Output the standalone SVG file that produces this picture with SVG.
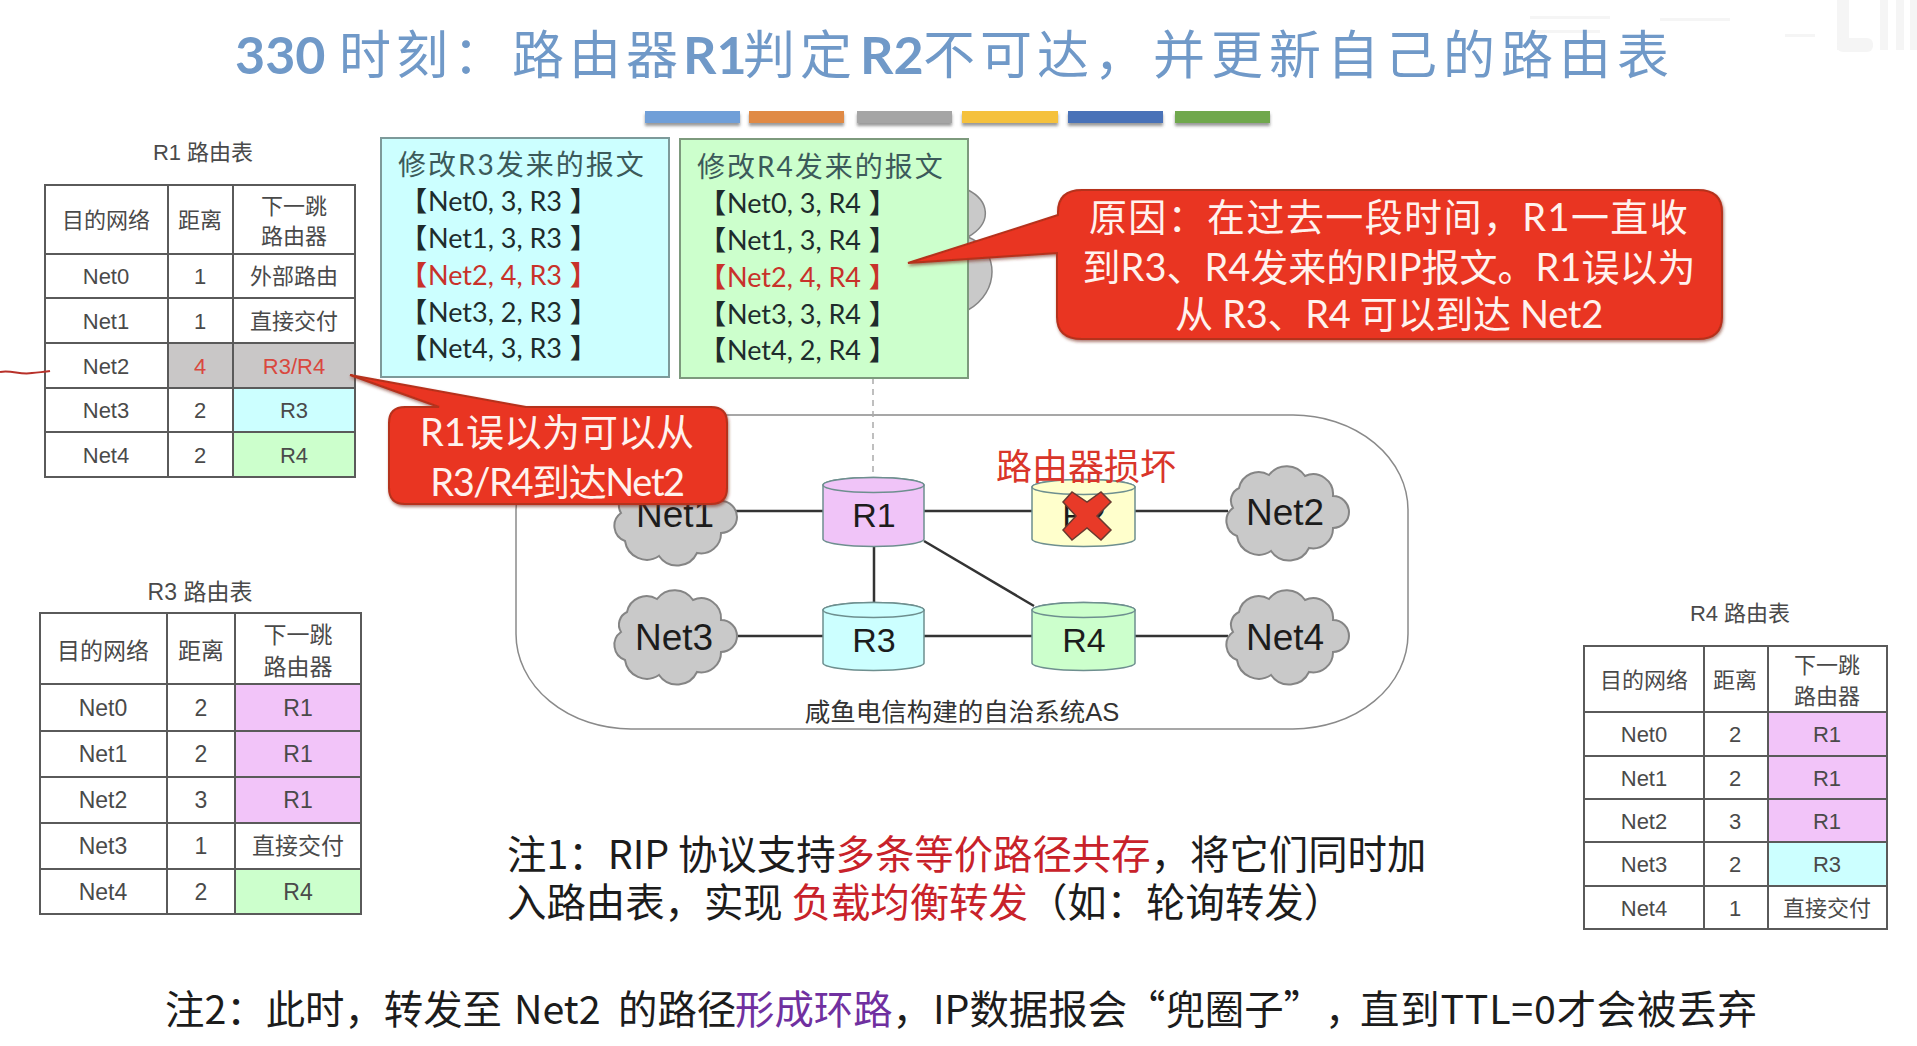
<svg xmlns="http://www.w3.org/2000/svg" width="1917" height="1046" viewBox="0 0 1917 1046">
<style>
text{font-family:"Liberation Sans","Noto Sans CJK SC",sans-serif}
.c{text-anchor:middle}
.t{font-size:22px;fill:#4a4a4a;text-anchor:middle}
.t3{font-size:23px;fill:#4a4a4a;text-anchor:middle}
.grid{fill:none;stroke:#5a5a5a;stroke-width:2}
.msg{font-family:"Lato","Noto Sans CJK SC",sans-serif;font-size:27px;fill:#1e2c2c}
.br{font-family:"Noto Sans CJK SC",sans-serif;font-weight:700}
.msgh{font-family:"Lato","Noto Sans CJK SC",sans-serif;font-size:28px;fill:#3c5a5a;letter-spacing:2px}
.red{fill:#c8322a}
.wh{font-family:"Lato","Noto Sans CJK SC",sans-serif;font-size:38px;fill:#fff2ee;text-anchor:middle}
.ttl{font-family:"Lato","Noto Sans CJK SC",sans-serif;font-size:52px;fill:#7099c8;letter-spacing:5px}
.ttb{font-weight:700;letter-spacing:0}
.note{font-family:"Noto Sans CJK SC","Noto Sans",sans-serif;font-size:39.400px;fill:#1c1c1c}
.nl{font-size:34px;fill:#1c1c1c;text-anchor:middle}
.nn{font-size:37px;fill:#1c1c1c;text-anchor:middle}
.edge{stroke:#333;stroke-width:2.5;fill:none}
.cyl{stroke:#6e8f8f;stroke-width:1.5}
.cloud{fill:#c9c9c9;stroke:#858585;stroke-width:2}
.bar{filter:url(#sh)}
.call{fill:#e93420;stroke:#b5301c;stroke-width:2;filter:url(#sh2)}
</style>
<defs>
<filter id="sh" x="-10%" y="-30%" width="120%" height="180%"><feDropShadow dx="0" dy="3" stdDeviation="1.5" flood-color="#555" flood-opacity=".6"/></filter>
<filter id="sh2" x="-10%" y="-10%" width="120%" height="125%"><feDropShadow dx="1" dy="2" stdDeviation="1.5" flood-color="#7a2a1a" flood-opacity=".6"/></filter>
<path id="cloud" class="cloud" d="M-44,-24A20,20 0 0 1 -14,-37A22,22 0 0 1 22,-36A20,20 0 0 1 50,-16A16,16 0 0 1 50,16A20,20 0 0 1 26,36A22,22 0 0 1 -12,39A22,22 0 0 1 -46,24A16,16 0 0 1 -50,-4A14,14 0 0 1 -44,-24Z"/>
</defs>
<rect width="1917" height="1046" fill="#fff"/>

<g id="watermark" fill="#f5f5f5">
<rect x="1837" y="0" width="12" height="50"/><rect x="1837" y="38" width="36" height="14" rx="6"/><rect x="1880" y="0" width="8" height="50"/><rect x="1896" y="0" width="8" height="50"/><rect x="1910" y="0" width="7" height="50"/>
<rect x="1530" y="16" width="80" height="3"/><rect x="1530" y="30" width="70" height="3"/><rect x="1660" y="18" width="70" height="3"/><rect x="1785" y="34" width="30" height="3"/>
</g>

<g id="title">
<text class="ttl" y="74"><tspan class="ttb" x="235">330</tspan><tspan x="339">时刻&#xFF1A;</tspan><tspan x="512">路由器</tspan><tspan class="ttb" x="683">R1</tspan><tspan x="743">判定</tspan><tspan class="ttb" x="860">R2</tspan><tspan x="923">不可达&#xFF0C;</tspan><tspan x="1153" letter-spacing="6">并更新自己的路由表</tspan></text>
</g>

<g id="bars">
<rect class="bar" x="645" y="111" width="95" height="12" fill="#6f9fd8"/>
<rect class="bar" x="749" y="111" width="95" height="12" fill="#e08a45"/>
<rect class="bar" x="857" y="111" width="95" height="12" fill="#a5a5a5"/>
<rect class="bar" x="962" y="111" width="96" height="12" fill="#f5c13e"/>
<rect class="bar" x="1068" y="111" width="95" height="12" fill="#4a72b8"/>
<rect class="bar" x="1175" y="111" width="95" height="12" fill="#70a84e"/>
</g>

<g id="as-domain">
<rect x="516" y="415" width="892" height="314" rx="115" ry="95" fill="#fff" stroke="#8a8a8a" stroke-width="1.5"/>
<text class="c" x="962" y="721" font-size="25.5" fill="#333">咸鱼电信构建的自治系统AS</text>
</g>

<g id="connectors">
<path class="edge" d="M735,511H823M924,511H1032M1135,511H1228M738,636H823M924,636H1032M1135,636H1228M874,546V602"/>
<path class="edge" d="M924,541L1034,606"/>
<path d="M873,378V478" fill="none" stroke="#aaa" stroke-width="1.5" stroke-dasharray="6 5"/>
</g>

<g id="net1"><use href="#cloud" x="671" y="517"/><text class="nn" x="675" y="527">Net1</text></g>
<g id="net2"><use href="#cloud" x="1283" y="512"/><text class="nn" x="1285" y="525">Net2</text></g>
<g id="net3"><use href="#cloud" x="671" y="636"/><text class="nn" x="674" y="650">Net3</text></g>
<g id="net4"><use href="#cloud" x="1283" y="636"/><text class="nn" x="1285" y="650">Net4</text></g>

<g id="r1"><path class="cyl" fill="#f0c4f8" d="M823,485V539A50.500,7.500 0 0 0 924,539V485A50.500,7.500 0 0 0 823,485Z"/><ellipse class="cyl" cx="873.500" cy="485" rx="50.500" ry="7.500" fill="#f0c4f8"/><text class="nl" x="874" y="527">R1</text></g>
<g id="r2"><path class="cyl" fill="#ffffcc" d="M1032,487V539A51.500,7.500 0 0 0 1135,539V487A51.500,7.500 0 0 0 1032,487Z"/><ellipse class="cyl" cx="1083.500" cy="487" rx="51.500" ry="7.500" fill="#ffffcc"/><text class="nl" x="1084" y="527">R2</text>
<polygon points="1063,502 1072,492 1087,502 1101,492 1111,502 1097,516 1111,530 1101,540 1087,528 1072,540 1063,530 1076,516" fill="#e83a28" stroke="#6a3a30" stroke-width="1.500"/></g>
<g id="r3"><path class="cyl" fill="#ccffff" d="M823,610V663A50.500,7.500 0 0 0 924,663V610A50.500,7.500 0 0 0 823,610Z"/><ellipse class="cyl" cx="873.500" cy="610" rx="50.500" ry="7.500" fill="#ccffff"/><text class="nl" x="874" y="652">R3</text></g>
<g id="r4"><path class="cyl" fill="#ccffcc" d="M1032,610V663A51.500,7.500 0 0 0 1135,663V610A51.500,7.500 0 0 0 1032,610Z"/><ellipse class="cyl" cx="1083.500" cy="610" rx="51.500" ry="7.500" fill="#ccffcc"/><text class="nl" x="1084" y="652">R4</text></g>
<text id="broken-label" class="c" x="1086" y="480" font-size="36" fill="#d9352a">路由器损坏</text>

<path d="M968,190C988,200 994,222 968,237C1000,250 1000,292 968,310Z" fill="#c9c9c9" stroke="#858585" stroke-width="1.500"/>

<g id="msg-r3">
<rect x="381" y="138" width="288" height="239" fill="#ccffff" stroke="#7d9a9a" stroke-width="2"/>
<text class="msgh" x="398" y="175">修改R3发来的报文</text>
<text class="msg" y="211"><tspan class="br" x="400">【</tspan><tspan x="428">Net0, 3, R3</tspan><tspan class="br" x="570">】</tspan></text>
<text class="msg" y="248"><tspan class="br" x="400">【</tspan><tspan x="428">Net1, 3, R3</tspan><tspan class="br" x="570">】</tspan></text>
<text class="msg red" y="285"><tspan class="br" x="400">【</tspan><tspan x="428">Net2, 4, R3</tspan><tspan class="br" x="570">】</tspan></text>
<text class="msg" y="322"><tspan class="br" x="400">【</tspan><tspan x="428">Net3, 2, R3</tspan><tspan class="br" x="570">】</tspan></text>
<text class="msg" y="358"><tspan class="br" x="400">【</tspan><tspan x="428">Net4, 3, R3</tspan><tspan class="br" x="570">】</tspan></text>
</g>
<g id="msg-r4">
<rect x="680" y="139" width="288" height="239" fill="#ccffcc" stroke="#7d9a7d" stroke-width="2"/>
<text class="msgh" x="697" y="177">修改R4发来的报文</text>
<text class="msg" y="213"><tspan class="br" x="699">【</tspan><tspan x="727">Net0, 3, R4</tspan><tspan class="br" x="869">】</tspan></text>
<text class="msg" y="250"><tspan class="br" x="699">【</tspan><tspan x="727">Net1, 3, R4</tspan><tspan class="br" x="869">】</tspan></text>
<text class="msg red" y="287"><tspan class="br" x="699">【</tspan><tspan x="727">Net2, 4, R4</tspan><tspan class="br" x="869">】</tspan></text>
<text class="msg" y="324"><tspan class="br" x="699">【</tspan><tspan x="727">Net3, 3, R4</tspan><tspan class="br" x="869">】</tspan></text>
<text class="msg" y="360"><tspan class="br" x="699">【</tspan><tspan x="727">Net4, 2, R4</tspan><tspan class="br" x="869">】</tspan></text>
</g>

<g id="table-r1">
<text class="t" x="203" y="160">R1 路由表</text>
<rect x="168" y="343" width="187" height="45" fill="#c9c7c7"/>
<rect x="233" y="388" width="122" height="44" fill="#ccffff"/>
<rect x="233" y="432" width="122" height="45" fill="#ccffcc"/>
<path class="grid" d="M45,185H355V477H45ZM168,185V477M233,185V477M45,254H355M45,298H355M45,343H355M45,388H355M45,432H355"/>
<text class="t" x="106" y="228">目的网络</text><text class="t" x="200" y="228">距离</text><text class="t" x="294" y="214">下一跳</text><text class="t" x="294" y="244">路由器</text>
<text class="t" x="106" y="284">Net0</text><text class="t" x="200" y="284">1</text><text class="t" x="294" y="284">外部路由</text>
<text class="t" x="106" y="329">Net1</text><text class="t" x="200" y="329">1</text><text class="t" x="294" y="329">直接交付</text>
<text class="t" x="106" y="374">Net2</text><text class="t" x="200" y="374" style="fill:#d9483e">4</text><text class="t" x="294" y="374" style="fill:#d9483e">R3/R4</text>
<text class="t" x="106" y="418">Net3</text><text class="t" x="200" y="418">2</text><text class="t" x="294" y="418">R3</text>
<text class="t" x="106" y="463">Net4</text><text class="t" x="200" y="463">2</text><text class="t" x="294" y="463">R4</text>
</g>
<path id="pen-mark" d="M0,372C12,370 20,375 32,373C40,372 46,372 50,371" fill="none" stroke="#b8312a" stroke-width="2"/>

<g id="table-r3">
<text class="t3" x="200" y="600">R3 路由表</text>
<rect x="235" y="684" width="126" height="139" fill="#f2c4f9"/>
<rect x="235" y="869" width="126" height="45" fill="#ccffcc"/>
<path class="grid" d="M40,613H361V914H40ZM167,613V914M235,613V914M40,684H361M40,731H361M40,777H361M40,823H361M40,869H361"/>
<text class="t3" x="103" y="659">目的网络</text><text class="t3" x="201" y="659">距离</text><text class="t3" x="298" y="643">下一跳</text><text class="t3" x="298" y="675">路由器</text>
<text class="t3" x="103" y="716">Net0</text><text class="t3" x="201" y="716">2</text><text class="t3" x="298" y="716">R1</text>
<text class="t3" x="103" y="762">Net1</text><text class="t3" x="201" y="762">2</text><text class="t3" x="298" y="762">R1</text>
<text class="t3" x="103" y="808">Net2</text><text class="t3" x="201" y="808">3</text><text class="t3" x="298" y="808">R1</text>
<text class="t3" x="103" y="854">Net3</text><text class="t3" x="201" y="854">1</text><text class="t3" x="298" y="854">直接交付</text>
<text class="t3" x="103" y="900">Net4</text><text class="t3" x="201" y="900">2</text><text class="t3" x="298" y="900">R4</text>
</g>

<g id="table-r4">
<text class="t" x="1740" y="621">R4 路由表</text>
<rect x="1768" y="712" width="119" height="130" fill="#f2c4f9"/>
<rect x="1768" y="842" width="119" height="44" fill="#ccffff"/>
<path class="grid" d="M1584,646H1887V929H1584ZM1704,646V929M1768,646V929M1584,712H1887M1584,756H1887M1584,799H1887M1584,842H1887M1584,886H1887"/>
<text class="t" x="1644" y="688">目的网络</text><text class="t" x="1735" y="688">距离</text><text class="t" x="1827" y="673">下一跳</text><text class="t" x="1827" y="704">路由器</text>
<text class="t" x="1644" y="742">Net0</text><text class="t" x="1735" y="742">2</text><text class="t" x="1827" y="742">R1</text>
<text class="t" x="1644" y="786">Net1</text><text class="t" x="1735" y="786">2</text><text class="t" x="1827" y="786">R1</text>
<text class="t" x="1644" y="829">Net2</text><text class="t" x="1735" y="829">3</text><text class="t" x="1827" y="829">R1</text>
<text class="t" x="1644" y="872">Net3</text><text class="t" x="1735" y="872">2</text><text class="t" x="1827" y="872">R3</text>
<text class="t" x="1644" y="916">Net4</text><text class="t" x="1735" y="916">1</text><text class="t" x="1827" y="916">直接交付</text>
</g>

<g id="callout-r1">
<path class="call" d="M350,375L526,407H711Q727,407 727,423V488Q727,504 711,504H405Q389,504 389,488V423Q389,407 405,407H439Z"/>
<text class="wh" x="557" y="446">R1误以为可以从</text>
<text class="wh" x="557" y="496" letter-spacing="-1.400">R3/R4到达Net2</text>
</g>
<g id="callout-reason">
<path class="call" d="M908,263L1058,215V212Q1058,190 1082,190H1698Q1722,190 1722,212V317Q1722,339 1698,339H1082Q1057,339 1057,317V253Z"/>
<text class="wh" x="1389" y="231" letter-spacing="1.400">原因&#xFF1A;在过去一段时间&#xFF0C;R1一直收</text>
<text class="wh" x="1389" y="281">到R3、R4发来的RIP报文。R1误以为</text>
<text class="wh" x="1389" y="328" letter-spacing="-0.300">从 R3、R4 可以到达 Net2</text>
</g>

<g id="note1">
<text class="note" x="507" y="869">注1&#xFF1A;RIP 协议支持<tspan fill="#c8222a">多条等价路径共存</tspan>&#xFF0C;将它们同时加</text>
<text class="note" x="507" y="917">入路由表&#xFF0C;实现 <tspan fill="#c8222a">负载均衡转发</tspan>&#xFF08;如&#xFF1A;轮询转发&#xFF09;</text>
</g>
<g id="note2">
<text class="note" x="165" y="1024">注2&#xFF1A;此时&#xFF0C;转发至<tspan x="514">Net2</tspan><tspan x="618">的路径</tspan><tspan fill="#7030a0" x="735">形成环路</tspan>&#xFF0C;<tspan x="933">IP数据报会</tspan><tspan x="1126">“兜圈子”</tspan><tspan x="1325">&#xFF0C;</tspan><tspan x="1360" letter-spacing="0.800">直到TTL=0才会被丢弃</tspan></text>
</g>
</svg>
